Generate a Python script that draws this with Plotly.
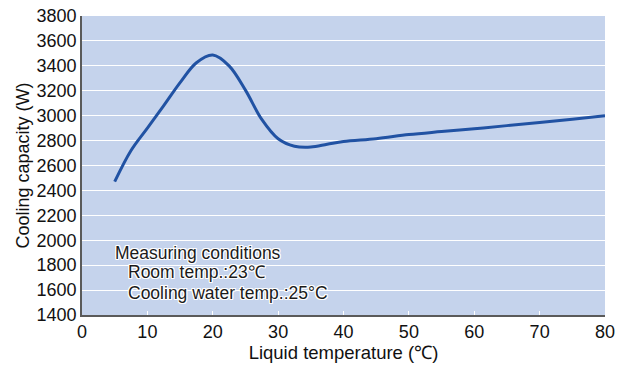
import plotly.graph_objects as go

liquid_temp = [5, 7.5, 10, 12.5, 15, 17.5, 20, 22.5, 25, 27.5, 30, 32.5, 35, 37.5, 40, 45, 50, 55, 60, 65, 70, 75, 80]
cooling_capacity = [2470, 2720, 2900, 3080, 3265, 3425, 3487, 3400, 3205, 2970, 2815, 2755, 2748, 2770, 2793, 2815, 2848, 2872, 2895, 2920, 2945, 2972, 3000]

y_ticks = list(range(1400, 3801, 200))
x_ticks = list(range(0, 81, 10))

note_lines = ["Measuring conditions", "Room temp.:23℃", "Cooling water temp.:25°C"]
note_x = [4.75, 6.8, 6.8]
note_y = [1898, 1745, 1577]

halo = ",".join(f"white {dx}px {dy}px 0px" for dx, dy in [(1,0),(-1,0),(0,1),(0,-1),(1,1),(-1,-1),(1,-1),(-1,1)])

fig = go.Figure()
fig.add_trace(go.Scatter(
    x=liquid_temp, y=cooling_capacity, mode="lines",
    line=dict(color="#2152a3", width=3, shape="spline", smoothing=1.0),
    hoverinfo="skip", showlegend=False))

for t, nx, ny in zip(note_lines, note_x, note_y):
    fig.add_annotation(
        x=nx, y=ny, xref="x", yref="y", xanchor="left", yanchor="middle",
        text=t, showarrow=False, align="left",
        font=dict(family="Arial, Liberation Sans", size=17.5, color="#1a1a1a", shadow=halo))

fig.update_layout(
    width=617, height=371,
    margin=dict(l=82, r=12, t=16, b=56),
    paper_bgcolor="white", plot_bgcolor="#c5d3ec",
    font=dict(family="Arial, Liberation Sans", size=18, color="#111"),
    xaxis=dict(range=[0, 80], tickvals=x_ticks, showgrid=False, zeroline=False, automargin=False,
               showline=True, linecolor="#5a5a5a", linewidth=1.6,
               ticks="inside", tickcolor="white", ticklen=4,
               title=dict(text="Liquid temperature (℃)", font=dict(size=18.5), standoff=4)),
    yaxis=dict(range=[1400, 3800], tickvals=y_ticks, showgrid=True, gridcolor="white", gridwidth=1.3,
               zeroline=False, showline=True, linecolor="#5a5a5a", linewidth=1.6, ticks="", automargin=False,
               title=dict(text="Cooling capacity (W)", font=dict(size=18), standoff=2)),
)

fig.write_html("out.html", config={"displayModeBar": False},
               post_script="document.body.style.margin='0';")
